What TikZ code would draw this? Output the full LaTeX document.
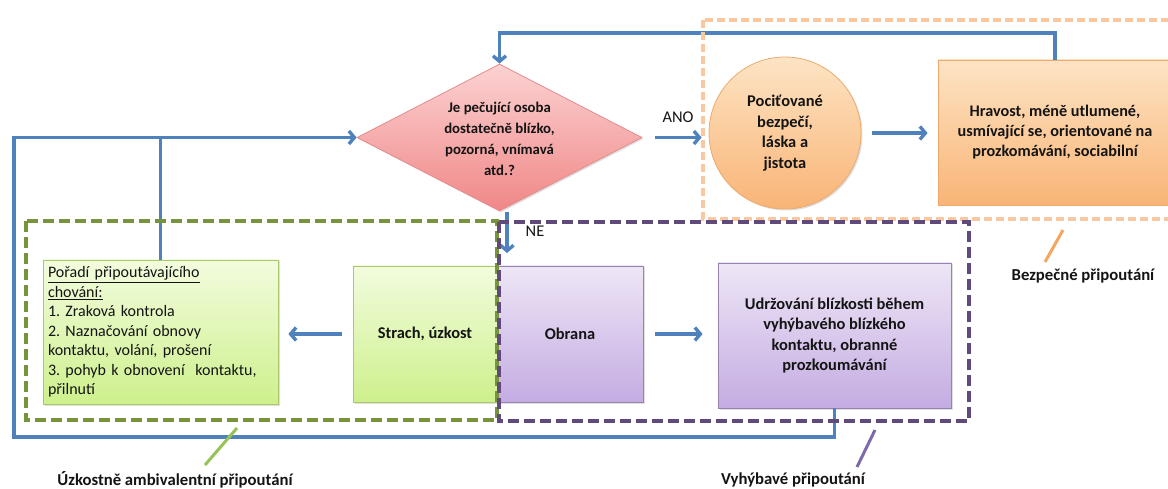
\documentclass[tikz,border=0pt]{standalone}
\usepackage{fontspec}
\setmainfont{Carlito}
\usetikzlibrary{shapes.geometric,arrows.meta,shadows}
\definecolor{connblue}{RGB}{79,129,189}
\definecolor{txt}{RGB}{20,20,20}
\definecolor{pinkT}{RGB}{252,210,210}
\definecolor{pinkB}{RGB}{240,135,135}
\definecolor{pinkD}{RGB}{228,140,140}
\definecolor{orT}{RGB}{253,228,196}
\definecolor{orB}{RGB}{249,180,118}
\definecolor{orD}{RGB}{236,170,110}
\definecolor{grT}{RGB}{242,252,222}
\definecolor{grB}{RGB}{206,240,140}
\definecolor{grD}{RGB}{170,200,110}
\definecolor{puT}{RGB}{238,230,246}
\definecolor{puB}{RGB}{196,172,226}
\definecolor{puD}{RGB}{150,130,180}
\definecolor{dashGreen}{RGB}{119,147,60}
\definecolor{dashPurple}{RGB}{96,74,123}
\definecolor{dashOrange}{RGB}{250,200,160}
\definecolor{ptrGreen}{RGB}{150,195,85}
\definecolor{ptrPurple}{RGB}{128,105,170}
\definecolor{ptrOrange}{RGB}{245,165,95}
\frenchspacing
\begin{document}
\begin{tikzpicture}[x=1pt,y=-1pt,
  font=\fontsize{16.4}{20.5}\selectfont\color{txt},
  shade/.style={drop shadow={shadow xshift=1.5pt,shadow yshift=-1.5pt,opacity=0.25}},
  greenbox/.style={rectangle,draw=grD,line width=0.8pt,top color=grT,bottom color=grB,shade,inner sep=0pt},
  purplebox/.style={rectangle,draw=puD,line width=0.8pt,top color=puT,bottom color=puB,shade,inner sep=0pt},
  orangebox/.style={rectangle,draw=orD,line width=0.8pt,top color=orT,bottom color=orB,shade,inner sep=0pt},
  conn/.style={draw=connblue,line width=3.4pt},
  arr/.style={conn,-{Straight Barb[length=5.5pt,width=13pt]}},
  grp/.style={line width=3.6pt,dash pattern=on 11pt off 5pt},
  lbl/.style={font=\fontsize{16.7}{20}\selectfont\bfseries\color{txt}},
  ptr/.style={line width=3pt}
]
\useasboundingbox (0,0) rectangle (1168,489);

% diamond
\node[diamond,draw=pinkD,line width=0.8pt,top color=pinkT,bottom color=pinkB,shade,
      minimum width=285pt,minimum height=147pt,inner sep=0pt] (dia) at (499.5,137.5) {};
\node[align=center,font=\fontsize{14.8}{20.8}\selectfont\bfseries\color{txt}] (diat) at (499.5,139)
  {Je pečující osoba\\dostatečně blízko,\\pozorná, vnímavá\\atd.?};

% secure branch
\node[circle,draw=orD,line width=0.8pt,top color=orT,bottom color=orB,shade,
      minimum size=152pt,inner sep=0pt,align=center,font=\fontsize{16.4}{20.7}\selectfont\bfseries\color{txt}]
      (ci) at (785,133) {Pociťované\\bezpečí,\\láska a\\jistota};
\node[orangebox,minimum width=234pt,minimum height=145pt,align=center,font=\fontsize{16.2}{20}\selectfont\bfseries\color{txt}]
      (ob) at (1055,132.5) {Hravost, méně utlumené,\\usmívající se, orientované na\\prozkomávání, sociabilní};

% lower row
\node[greenbox,minimum width=235pt,minimum height=144pt,text width=225pt,align=left,
      font=\fontsize{16}{19.5}\selectfont\color{txt}] (po) at (160.5,332)
  {\underline{Pořadí připoutávajícího}\\\underline{chování:}\\1. Zraková kontrola\\2. Naznačování obnovy\\kontaktu, volání, prošení\\3. pohyb k~obnovení\ \ kontaktu,\\přilnutí};
\node[greenbox,minimum width=144pt,minimum height=136pt,font=\fontsize{16.4}{20}\selectfont\bfseries\color{txt}]
      (st) at (425,334) {Strach, úzkost};
\node[purplebox,minimum width=146pt,minimum height=136pt,font=\fontsize{16.4}{20}\selectfont\bfseries\color{txt}]
      (obr) at (570,334) {Obrana};
\node[purplebox,minimum width=233pt,minimum height=145pt,align=center,font=\fontsize{16.4}{20.5}\selectfont\bfseries\color{txt}]
      (ud) at (834.5,335.5) {Udržování blízkosti během\\vyhýbavého blízkého\\kontaktu, obranné\\prozkoumávání};

% connectors
\coordinate (topc) at (499.5,33);
\draw[arr] (ob.north) |- (topc) -- (dia.north);
\coordinate (botl) at (14,437);
\draw[arr] (ud.south) |- (botl) |- (dia.west);
\draw[conn] (po.north) -- (po.north |- dia.west);
\draw[arr,shorten <=13pt,shorten >=7pt] (dia.east) -- (ci.west |- dia.east);
\node[font=\fontsize{16.4}{20}\selectfont\color{txt}] (ano) at (678,117) {ANO};
\draw[arr,shorten <=11pt,shorten >=10pt] (ci.east) -- (ci.east -| ob.west);
\coordinate (nes) at (507,212);
\coordinate (nee) at (507,253);
\draw[arr] (nes) -- (nee);
\node[font=\fontsize{16.4}{20}\selectfont\color{txt}] (ne) at (535,231) {NE};
\draw[arr,shorten <=11pt,shorten >=10pt] (st.west) -- (st.west -| po.east);
\draw[arr,shorten <=12pt,shorten >=15pt] (obr.east) -- (obr.east -| ud.west);

% group frames
\draw[grp,draw=dashOrange,dash pattern=on 8pt off 4pt] (703,20) rectangle (1175,219);
\draw[grp,draw=dashGreen] (26,221) rectangle (497,420);
\draw[grp,draw=dashPurple] (499,222) rectangle (969,421);

% pointers and group labels
\coordinate (pg1) at (237,428); \coordinate (pg2) at (205,465);
\draw[ptr,draw=ptrGreen] (pg1) -- (pg2);
\coordinate (pp1) at (875,430); \coordinate (pp2) at (857,467);
\draw[ptr,draw=ptrPurple] (pp1) -- (pp2);
\coordinate (po1) at (1063,230); \coordinate (po2) at (1045,262);
\draw[ptr,draw=ptrOrange] (po1) -- (po2);
\node[lbl] (lamb) at (175,480) {Úzkostně ambivalentní připoutání};
\node[lbl] (lavo) at (793,480) {Vyhýbavé připoutání};
\node[lbl] (lsec) at (1083,276) {Bezpečné připoutání};
\end{tikzpicture}
\end{document}
